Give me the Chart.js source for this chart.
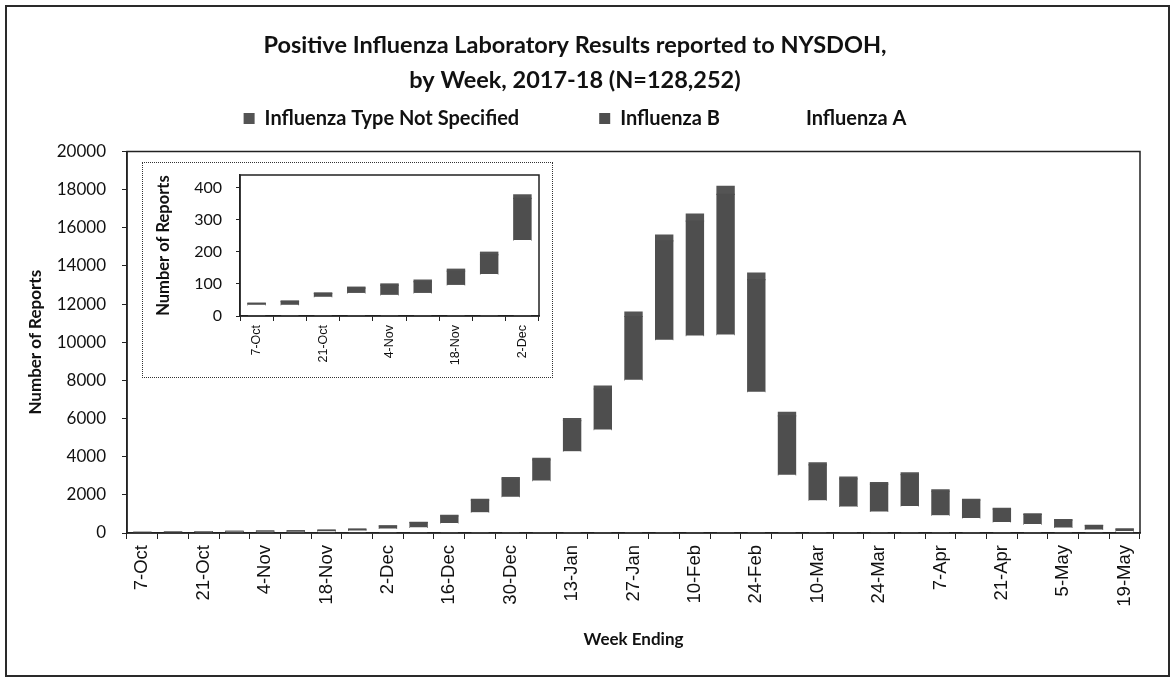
<!DOCTYPE html>
<html>
<head>
<meta charset="utf-8">
<script src="https://cdn.jsdelivr.net/npm/chart.js@4.4.0/dist/chart.umd.min.js"></script>
<style>
body { margin: 0; background: #fff; }
#wrap { position: relative; width: 1175px; height: 682px; overflow: hidden; }
#frame { position: absolute; left: 5px; top: 5px; width: 1161px; height: 668px; border: 2px solid #2a2a2a; }
#main { position: absolute; left: 0; top: 0; }
#insetBox { position: absolute; left: 142px; top: 162px; width: 409px; height: 214px; border: 1px dotted #333; background: #fff; }
#inset { position: absolute; left: 0; top: 0; }
</style>
</head>
<body>
<div id="wrap">
  <div id="frame"></div>
  <canvas id="main" width="1175" height="682"></canvas>
  <div id="insetBox"><canvas id="inset" width="409" height="214"></canvas></div>
</div>
<script>
// week ending dates, 2017-18 season
var weeks = ['7-Oct','14-Oct','21-Oct','28-Oct','4-Nov','11-Nov','18-Nov','25-Nov','2-Dec','9-Dec',
  '16-Dec','23-Dec','30-Dec','6-Jan','13-Jan','20-Jan','27-Jan','3-Feb','10-Feb','17-Feb','24-Feb',
  '3-Mar','10-Mar','17-Mar','24-Mar','31-Mar','7-Apr','14-Apr','21-Apr','28-Apr','5-May','12-May','19-May'];

// counts (A sits at the bottom, drawn white)
var fluA  = [35,35,60,72,66,72,97,131,237,300,530,1090,1900,2750,4290,5420,8030,10130,10350,10400,7410,
  3050,1720,1390,1130,1420,930,790,580,470,290,190,100];
var fluB  = [4,10,10,15,30,35,43,60,130,240,360,630,930,1080,1600,2130,3320,5180,6000,7350,5870,
  3090,1850,1450,1430,1640,1260,930,670,500,390,200,104];
var fluNS = [1,2,2,3,4,5,6,8,11,20,30,50,70,80,110,150,230,310,370,420,340,
  190,110,90,80,90,70,50,40,30,20,10,6];

var mainTicks = [0,2000,4000,6000,8000,10000,12000,14000,16000,18000,20000];
var insetTicks = [0,100,200,300,400];
var insetWeeks = 9; // 7-Oct .. 2-Dec

var colA = '#ffffff';
var colB = '#4e4e4e';
var colNS = '#545454';

// box round the plot area, like the excel chart
var plotBox = {
  id: 'plotBox',
  afterDraw: function(chart) {
    var a = chart.chartArea, ctx = chart.ctx;
    ctx.save();
    ctx.strokeStyle = '#222';
    ctx.lineWidth = 1.5;
    ctx.strokeRect(a.left, a.top, a.right - a.left, a.bottom - a.top);
    ctx.restore();
  }
};

function everyOther(value, index) {
  return index % 2 === 0 ? this.getLabelForValue(value) : '';
}

function fixedTicks(list) {
  return function(s) { s.ticks = list.map(function(v) { return { value: v }; }); };
}

function makeSets(n) {
  return [
    { label: 'Influenza A', data: fluA.slice(0, n), backgroundColor: colA, borderWidth: 0 },
    { label: 'Influenza B', data: fluB.slice(0, n), backgroundColor: colB, borderWidth: 0, inflateAmount: 0.6 },
    { label: 'Influenza Type Not Specified', data: fluNS.slice(0, n), backgroundColor: colNS, borderWidth: 0, inflateAmount: 0.6 }
  ];
}

// wider gaps between legend entries
var legendGap = {
  'Influenza Type Not Specified': '\u2003\u2003\u2003\u2003\u2002',
  'Influenza B': '\u2003\u2003\u2003\u2002',
  'Influenza A': ''
};

new Chart(document.getElementById('main'), {
  type: 'bar',
  data: { labels: weeks, datasets: makeSets(weeks.length) },
  options: {
    responsive: false,
    animation: false,
    categoryPercentage: 1,
    barPercentage: 0.56,
    layout: { padding: { left: 10, right: 35, top: 10, bottom: 10 } },
    plugins: {
      title: {
        display: true,
        text: ['Positive Influenza Laboratory Results reported to NYSDOH,', 'by Week, 2017-18 (N=128,252)'],
        color: '#111',
        font: { family: 'Lato', size: 23.5, weight: 'bold', lineHeight: 1.5 },
        padding: { top: 18, bottom: 0 }
      },
      // empty spacer between legend and plot
      subtitle: {
        display: true, text: ' ', weight: 500,
        font: { size: 1, lineHeight: 1 },
        padding: { top: 0, bottom: 12 }
      },
      legend: {
        reverse: true,
        labels: {
          color: '#111',
          font: { family: 'Lato', size: 20, weight: 'bold' },
          boxWidth: 11,
          boxHeight: 11,
          padding: 10,
          generateLabels: function(chart) {
            var items = Chart.defaults.plugins.legend.labels.generateLabels(chart);
            items.forEach(function(it) { it.text = it.text + legendGap[it.text]; });
            return items;
          }
        }
      },
      tooltip: { enabled: false }
    },
    scales: {
      x: {
        stacked: true,
        afterFit: function(s) { s.height = 139; },
        grid: { drawOnChartArea: false, tickLength: 6, color: '#222', offset: true },
        border: { color: '#222', width: 1.5 },
        ticks: {
          autoSkip: false, maxRotation: 90, minRotation: 90, padding: 6,
          color: '#111', font: { family: 'Liberation Sans', size: 18.5 },
          callback: everyOther
        },
        title: {
          display: true, text: 'Week Ending', color: '#111',
          font: { family: 'Lato', size: 17, weight: 'bold' },
          padding: { top: 0, bottom: 22 }
        }
      },
      y: {
        stacked: true,
        min: 0, max: 20000,
        afterFit: function(s) { s.width = 117; },
        afterBuildTicks: fixedTicks(mainTicks),
        grid: { drawOnChartArea: false, tickLength: 5, color: '#222' },
        border: { color: '#222', width: 1.5 },
        ticks: {
          padding: 16, color: '#111', font: { family: 'Lato', size: 17 },
          callback: function(v) { return String(v); }
        },
        title: {
          display: true, text: 'Number of Reports', color: '#111',
          font: { family: 'Lato', size: 17, weight: 'bold' },
          padding: { top: 15, bottom: 0 }
        }
      }
    }
  },
  plugins: [plotBox]
});

new Chart(document.getElementById('inset'), {
  type: 'bar',
  data: { labels: weeks.slice(0, insetWeeks), datasets: makeSets(insetWeeks) },
  options: {
    responsive: false,
    animation: false,
    categoryPercentage: 1,
    barPercentage: 0.52,
    layout: { padding: { left: 0, right: 13, top: 12, bottom: 0 } },
    plugins: { legend: { display: false }, title: { display: false }, tooltip: { enabled: false } },
    scales: {
      x: {
        stacked: true,
        afterFit: function(s) { s.height = 61; },
        grid: { drawOnChartArea: false, tickLength: 5, color: '#222', offset: true },
        border: { color: '#222', width: 1.5 },
        ticks: {
          autoSkip: false, maxRotation: 90, minRotation: 90, padding: 4,
          color: '#111', font: { family: 'Liberation Sans', size: 12.5 },
          callback: everyOther
        }
      },
      y: {
        stacked: true,
        min: 0, max: 440,
        afterFit: function(s) { s.width = 97; s.paddingTop = 0; s.paddingBottom = 0; },
        afterBuildTicks: fixedTicks(insetTicks),
        grid: { drawOnChartArea: false, tickLength: 4, color: '#222' },
        border: { color: '#222', width: 1.5 },
        ticks: { padding: 14, color: '#111', font: { family: 'Lato', size: 16 } },
        title: {
          display: true, text: 'Number of Reports', color: '#111',
          font: { family: 'Lato', size: 16.5, weight: 'bold' },
          padding: { top: 11, bottom: 0 }
        }
      }
    }
  },
  plugins: [plotBox]
});
</script>
</body>
</html>
